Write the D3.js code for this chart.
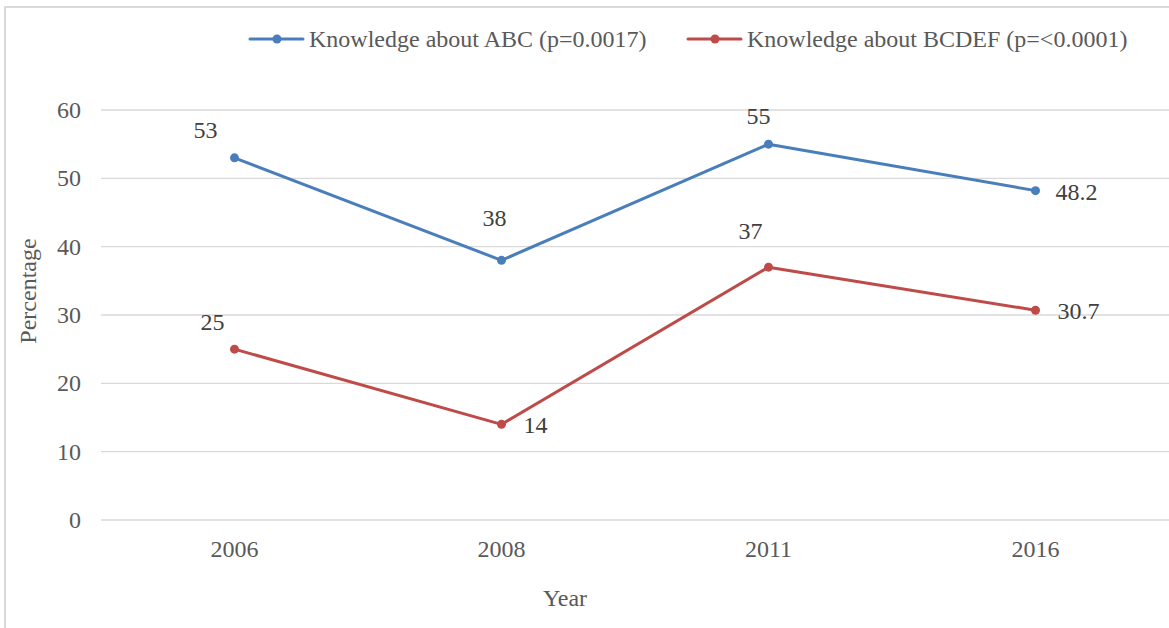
<!DOCTYPE html>
<html><head><meta charset="utf-8">
<script src="https://cdnjs.cloudflare.com/ajax/libs/d3/7.8.5/d3.min.js"></script>
<style>body{margin:0;background:#fff}svg{display:block}</style>
</head><body><svg id="c" width="1169" height="628"></svg>
<script>
const years = ["2006","2008","2011","2016"];
const abcValues = [53,38,55,48.2];
const bcdefValues = [25,14,37,30.7];
const yTicks = [0,10,20,30,40,50,60];
const seriesNames = ["Knowledge about ABC (p=0.0017)","Knowledge about BCDEF (p=<0.0001)"];

const FONT = "'Liberation Serif', 'Times New Roman', 'DejaVu Serif', serif";
const FS = 24;
const svg = d3.select("#c").attr("font-family",FONT);
svg.append("rect").attr("x",5).attr("y",7).attr("width",1180).attr("height",640)
  .attr("fill","none").attr("stroke","#d9d9d9").attr("stroke-width",2);

const x = d3.scaleBand().domain(years).range([101,1169]);
const y = d3.scaleLinear().domain([0,60]).range([520,110]);

const g = svg.append("g");
g.selectAll("line.grid").data(yTicks).join("line")
  .attr("x1",101).attr("x2",1169).attr("y1",d=>y(d)).attr("y2",d=>y(d))
  .attr("stroke","#d9d9d9").attr("stroke-width",1.3);
g.selectAll("text.yt").data(yTicks).join("text")
  .attr("x",81).attr("y",d=>y(d)+8).attr("text-anchor","end").attr("font-size",FS).attr("fill","#595959").text(d=>d);
g.selectAll("text.xt").data(years).join("text")
  .attr("x",d=>x(d)+x.bandwidth()/2).attr("y",557).attr("text-anchor","middle").attr("font-size",FS).attr("fill","#595959").text(d=>d);

svg.append("text").attr("x",565).attr("y",606).attr("text-anchor","middle").attr("font-size",FS).attr("fill","#595959").text("Year");
svg.append("text").attr("transform","translate(36,291) rotate(-90)").attr("text-anchor","middle").attr("font-size",FS).attr("fill","#595959").text("Percentage");

const colors = ["#4a7ebb","#be4b48"];
const series = [abcValues,bcdefValues];
const labelOffsets = [
  [[-29,-28],[-7,-42],[-10,-28],[20,1]],
  [[-22,-27],[34,1],[-18,-36],[22,1]]
];
const line = d3.line().x((d,i)=>x(years[i])+x.bandwidth()/2).y(d=>y(d));
series.forEach((vals,si)=>{
  svg.append("path").datum(vals).attr("d",line).attr("fill","none")
    .attr("stroke",colors[si]).attr("stroke-width",3).attr("stroke-linejoin","round").attr("stroke-linecap","round");
  svg.selectAll(null).data(vals).join("circle")
    .attr("cx",(d,i)=>x(years[i])+x.bandwidth()/2).attr("cy",d=>y(d)).attr("r",4.5).attr("fill",colors[si]);
  svg.selectAll(null).data(vals).join("text")
    .attr("x",(d,i)=>x(years[i])+x.bandwidth()/2+labelOffsets[si][i][0])
    .attr("y",(d,i)=>y(d)+labelOffsets[si][i][1]+8)
    .attr("font-size",FS).attr("fill","#404040")
    .attr("text-anchor",(d,i)=>i===3?"start":"middle").text(d=>d);
});

const legX = [250,688];
seriesNames.forEach((n,i)=>{
  const lg = svg.append("g");
  lg.append("line").attr("x1",legX[i]).attr("x2",legX[i]+53).attr("y1",39).attr("y2",39)
    .attr("stroke",colors[i]).attr("stroke-width",3).attr("stroke-linecap","round");
  lg.append("circle").attr("cx",legX[i]+27).attr("cy",39).attr("r",4.5).attr("fill",colors[i]);
  lg.append("text").attr("x",legX[i]+59).attr("y",47).attr("font-size",FS).attr("fill","#595959").text(n);
});
</script></body></html>
